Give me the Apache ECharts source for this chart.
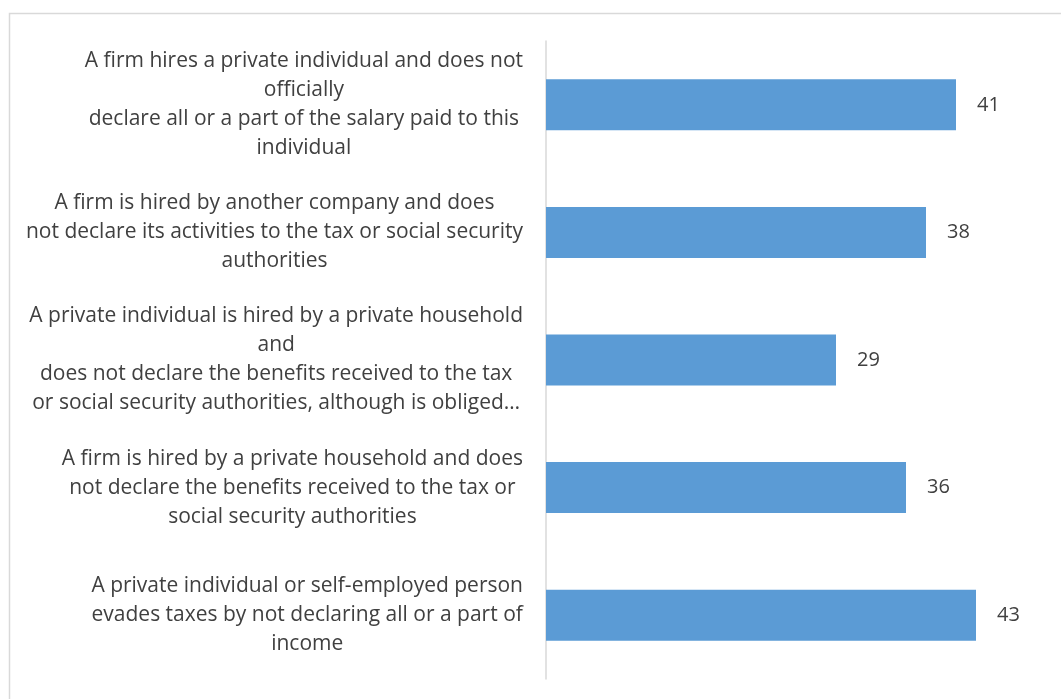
<!DOCTYPE html>
<html>
<head>
<meta charset="utf-8">
<script src="https://cdn.jsdelivr.net/npm/echarts@6/dist/echarts.min.js"></script>
<style>
  html, body { margin: 0; padding: 0; background: #ffffff; }
  #chart { width: 1061px; height: 699px; }
</style>
</head>
<body>
<div id="chart"></div>
<script>
// Category labels (each inner array is one label, line by line)
const categories = [
  ['A firm hires a private individual and does not', 'officially', 'declare all or a part of the salary paid to this', 'individual'],
  ['A firm is hired by another company and does', 'not declare its activities to the tax or social security', 'authorities'],
  ['A private individual is hired by a private household', 'and', 'does not declare the benefits received to the tax', 'or social security authorities, although is obliged…'],
  ['A firm is hired by a private household and does', 'not declare the benefits received to the tax or', 'social security authorities'],
  ['A private individual or self-employed person', 'evades taxes by not declaring all or a part of', 'income']
];
const values = [41, 38, 29, 36, 43];

const FONT = '"Open Sans", Lato, sans-serif';
const TEXT = '#404040';

const chart = echarts.init(document.getElementById('chart'), null, { renderer: 'canvas' });

chart.setOption({
  animation: false,
  backgroundColor: '#ffffff',
  grid: { left: 546, right: 15, top: 41, bottom: 20, containLabel: false },
  xAxis: {
    type: 'value',
    min: 0,
    max: 50,
    show: false
  },
  yAxis: {
    type: 'category',
    inverse: true,
    data: categories.map(lines => lines.join('\n')),
    axisLine: { show: true, lineStyle: { color: '#d9d9d9', width: 1.5 } },
    axisTick: { show: false },
    axisLabel: {
      margin: 23,
      align: 'right',
      formatter: function (v) {
        return v.split('\n').map(l => '{c|' + l + '}').join('\n');
      },
      rich: {
        c: {
          align: 'center',
          fontFamily: FONT,
          fontSize: 21,
          lineHeight: 29,
          color: TEXT
        }
      }
    }
  },
  series: [{
    type: 'bar',
    data: values,
    barWidth: 51,
    itemStyle: { color: '#5b9bd5' },
    label: {
      show: true,
      position: 'right',
      distance: 21,
      fontFamily: FONT,
      fontSize: 20,
      color: TEXT
    }
  }],
  graphic: [{
    type: 'rect',
    shape: { x: 9.5, y: 13.5, width: 1060, height: 700 },
    style: { fill: null, stroke: '#d9d9d9', lineWidth: 1.5 },
    silent: true
  }]
});
</script>
</body>
</html>
